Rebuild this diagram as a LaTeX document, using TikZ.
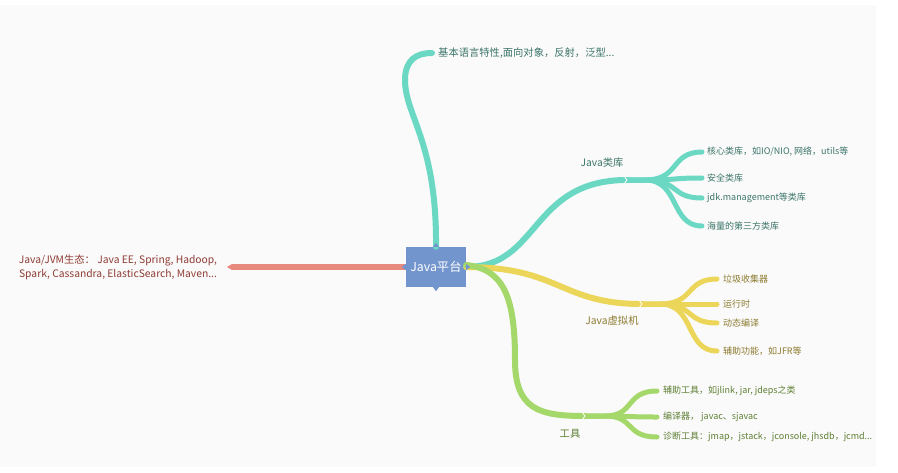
\documentclass[tikz,border=0pt]{standalone}
\usepackage{fontspec}
\setmainfont{Noto Sans CJK SC}
\usepackage{tikz}
\usetikzlibrary{positioning}

\definecolor{bgray}{HTML}{FAFAFA}
\definecolor{boxblue}{HTML}{7395CE}
\definecolor{tealb}{HTML}{6AD8C3}
\definecolor{yellowb}{HTML}{EBD65A}
\definecolor{greenb}{HTML}{A5D86B}
\definecolor{redb}{HTML}{E8897D}
\definecolor{tealt}{HTML}{3A7468}
\definecolor{yellowt}{HTML}{8C7A2E}
\definecolor{greent}{HTML}{5E7F33}
\definecolor{redt}{HTML}{8E3B33}

\tikzset{
  branch/.style={line width=6pt, line cap=round},
  twig/.style={line width=5pt, line cap=round},
  leaf/.style={font=\fontsize{9}{11}\selectfont, inner sep=0pt, anchor=west},
  title/.style={font=\fontsize{10.3}{12}\selectfont, inner sep=0pt},
  chev/.style={draw=white, line width=0.8pt}
}

\begin{document}
\begin{tikzpicture}[x=1pt,y=-1pt]
\useasboundingbox (0,0) rectangle (898,472);
\fill[bgray] (0,5) rectangle (876,467);

% centre
\node[fill=boxblue, minimum width=60pt, minimum height=40pt, text=white,
      font=\fontsize{12.3}{14}\selectfont, inner sep=0pt] (java) at (436,267) {Java平台};

% left: ecosystem
\coordinate (eco) at (232,267);
\draw[redb, line width=6pt] (java.west) -- (eco);
\fill[redb] (eco) ++(0,-3) -- ++(-5,3) -- ++(5,3) -- cycle;
\node[title, text=redt, align=center, font=\fontsize{10.3}{14}\selectfont] (ecol) at (118,267)
  {Java/JVM生态： Java EE, Spring, Hadoop,\\Spark, Cassandra, ElasticSearch, Maven...};

% top: language
\coordinate (lang) at (432,53);
\draw[tealb, branch] (java.north) .. controls (437,140) and (404,115) .. (405,78)
  .. controls (406,60) and (416,53) .. (lang);
\node[leaf, text=tealt, right=6pt of lang, font=\fontsize{10.3}{12}\selectfont] (langl)
  {基本语言特性,面向对象，反射，泛型...};

% Java类库
\coordinate (lib) at (627,180);
\draw[tealb, branch] (java.east) .. controls (540,267) and (530,180) .. (lib);
\node[title, text=tealt] (libl) at (602,163) {Java类库};
\foreach \y/\n in {152/a, 178/b, 198/c, 226/d} {
  \coordinate (lib\n) at (702,\y);
  \draw[tealb, twig] (lib) -- (645,180) .. controls (680,180) and (670,\y) .. (lib\n);
}
\draw[chev] (lib) ++(-3,-4) -- ++(3,4) -- ++(-3,4);
\node[leaf, text=tealt, right=5pt of liba] {核心类库，如IO/NIO, 网络，utils等};
\node[leaf, text=tealt, right=5pt of libb] {安全类库};
\node[leaf, text=tealt, right=5pt of libc] {jdk.management等类库};
\node[leaf, text=tealt, right=5pt of libd] {海量的第三方类库};

% Java虚拟机
\coordinate (jvm) at (642,304);
\draw[yellowb, branch] (java.east) .. controls (560,267) and (560,304) .. (jvm);
\node[title, text=yellowt] (jvml) at (612,321) {Java虚拟机};
\foreach \y/\n in {279/a, 304/b, 323/c, 351/d} {
  \coordinate (jvm\n) at (717,\y);
  \draw[yellowb, twig] (jvm) -- (660,304) .. controls (695,304) and (685,\y) .. (jvm\n);
}
\draw[chev] (jvm) ++(-3,-4) -- ++(3,4) -- ++(-3,4);
\node[leaf, text=yellowt, right=6pt of jvma] {垃圾收集器};
\node[leaf, text=yellowt, right=6pt of jvmb] {运行时};
\node[leaf, text=yellowt, right=6pt of jvmc] {动态编译};
\node[leaf, text=yellowt, right=6pt of jvmd] {辅助功能，如JFR等};

% 工具
\coordinate (tool) at (585,416);
\draw[greenb, branch] ([yshift=2pt]java.east) .. controls (505,269) and (515,300) .. (515,360)
  .. controls (515,410) and (540,416) .. (tool);
\node[title, text=greent] (tooll) at (570,434) {工具};
\foreach \y/\n in {391/a, 417/b, 437/c} {
  \coordinate (tool\n) at (657,\y);
  \draw[greenb, twig] (tool) -- (605,416) .. controls (635,416) and (625,\y) .. (tool\n);
}
\draw[chev] (tool) ++(-3,-4) -- ++(3,4) -- ++(-3,4);
\node[leaf, text=greent, right=6pt of toola] {辅助工具，如jlink, jar, jdeps之类};
\node[leaf, text=greent, right=6pt of toolb] {编译器， javac、sjavac};
\node[leaf, text=greent, right=6pt of toolc] {诊断工具：jmap，jstack，jconsole, jhsdb，jcmd...};

% notches on the centre box
\fill[boxblue] (java.north) ++(-3,0) -- ++(3,-4) -- ++(3,4) -- cycle;
\fill[boxblue] (java.south) ++(-3,0) -- ++(3,4) -- ++(3,-4) -- cycle;
\fill[boxblue] (java.west) ++(0,-3) -- ++(-4,3) -- ++(4,3) -- cycle;
\fill[boxblue] (java.east) ++(0,-3) -- ++(4,3) -- ++(-4,3) -- cycle;
\end{tikzpicture}
\end{document}
